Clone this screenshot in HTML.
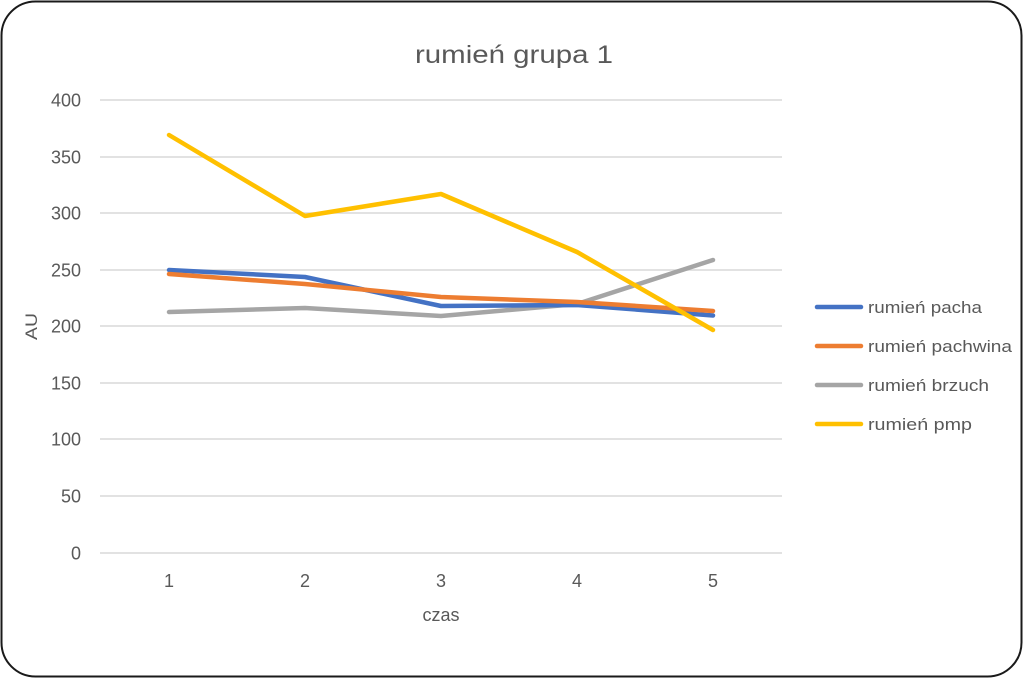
<!DOCTYPE html>
<html>
<head>
<meta charset="utf-8">
<style>
html,body{margin:0;padding:0;background:#fff;}
svg{display:block;}
text{font-family:"Liberation Sans",sans-serif;fill:#595959;}
</style>
</head>
<body>
<svg width="1024" height="679" viewBox="0 0 1024 679" xmlns="http://www.w3.org/2000/svg">
<rect x="0" y="0" width="1024" height="679" fill="#fff"/>
<rect x="1.5" y="1.5" width="1020" height="675" rx="34" ry="34" fill="#fff" stroke="#1a1a1a" stroke-width="2"/>
<text x="514" y="63" font-size="25" text-anchor="middle" textLength="198" lengthAdjust="spacingAndGlyphs">rumień grupa 1</text>
<g stroke="#d9d9d9" stroke-width="1.5">
<line x1="100" y1="100" x2="782" y2="100"/>
<line x1="100" y1="157" x2="782" y2="157"/>
<line x1="100" y1="213" x2="782" y2="213"/>
<line x1="100" y1="270" x2="782" y2="270"/>
<line x1="100" y1="326" x2="782" y2="326"/>
<line x1="100" y1="383" x2="782" y2="383"/>
<line x1="100" y1="439" x2="782" y2="439"/>
<line x1="100" y1="496" x2="782" y2="496"/>
<line x1="100" y1="553" x2="782" y2="553"/>
</g>
<g font-size="18" text-anchor="end">
<text x="81" y="106.5">400</text>
<text x="81" y="163.5">350</text>
<text x="81" y="219.5">300</text>
<text x="81" y="276.5">250</text>
<text x="81" y="332.5">200</text>
<text x="81" y="389.5">150</text>
<text x="81" y="445.5">100</text>
<text x="81" y="502.5">50</text>
<text x="81" y="559.5">0</text>
</g>
<g font-size="18" text-anchor="middle">
<text x="169" y="587">1</text>
<text x="305" y="587">2</text>
<text x="441" y="587">3</text>
<text x="577" y="587">4</text>
<text x="713" y="587">5</text>
<text x="441" y="621" textLength="37" lengthAdjust="spacingAndGlyphs">czas</text>
</g>
<text x="0" y="0" font-size="17" text-anchor="middle" textLength="27" lengthAdjust="spacingAndGlyphs" transform="translate(37,326.5) rotate(-90)">AU</text>
<g fill="none" stroke-width="4.5" stroke-linejoin="round" stroke-linecap="round">
<polyline stroke="#A5A5A5" points="169,312 305,308 441,316 577,304 713,260"/>
<polyline stroke="#4472C4" points="169,270 305,277 441,306 577,305 713,315.5"/>
<polyline stroke="#ED7D31" points="169,274 305,284 441,297 577,302 713,311"/>
<polyline stroke="#FFC000" points="169,135 305,216 441,194 577,252 713,330"/>
</g>
<g stroke-width="4.5" stroke-linecap="round">
<line x1="817" y1="307" x2="861" y2="307" stroke="#4472C4"/>
<line x1="817" y1="346" x2="861" y2="346" stroke="#ED7D31"/>
<line x1="817" y1="385" x2="861" y2="385" stroke="#A5A5A5"/>
<line x1="817" y1="424" x2="861" y2="424" stroke="#FFC000"/>
</g>
<g font-size="17">
<text x="868" y="313" textLength="114" lengthAdjust="spacingAndGlyphs">rumień pacha</text>
<text x="868" y="352" textLength="144" lengthAdjust="spacingAndGlyphs">rumień pachwina</text>
<text x="868" y="391" textLength="121" lengthAdjust="spacingAndGlyphs">rumień brzuch</text>
<text x="868" y="430" textLength="104" lengthAdjust="spacingAndGlyphs">rumień pmp</text>
</g>
</svg>
</body>
</html>
